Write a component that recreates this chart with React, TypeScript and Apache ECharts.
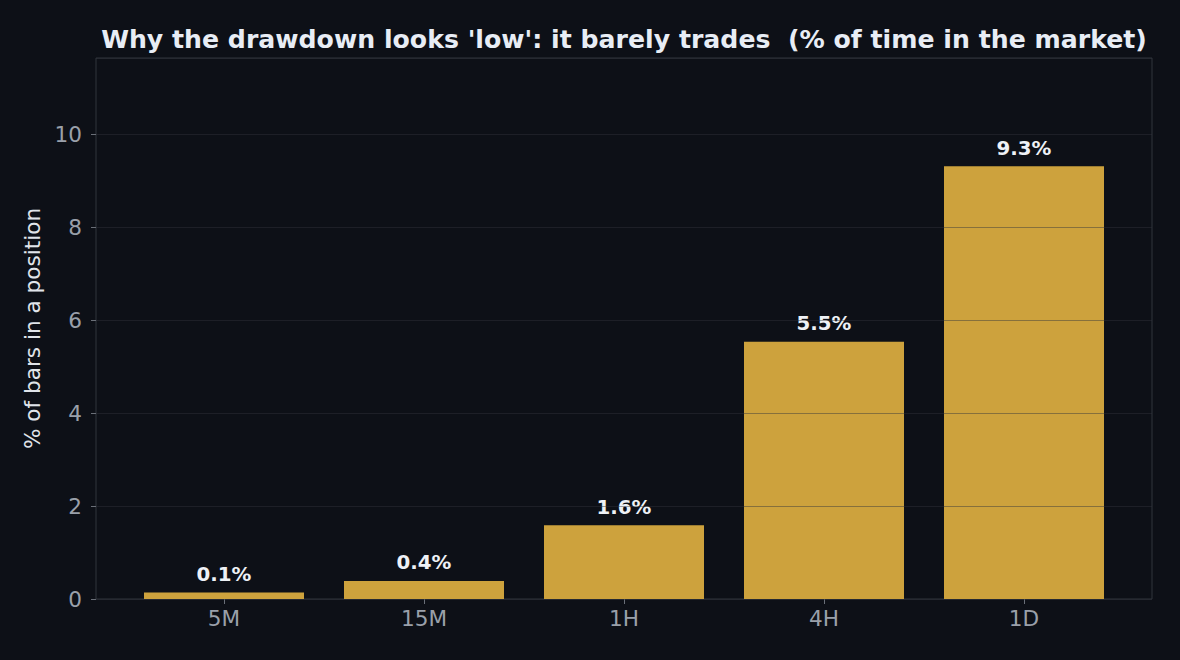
import React, { useEffect, useRef } from "react";
import * as echarts from "echarts";

const categories = ["5M", "15M", "1H", "4H", "1D"];
const values = [0.14, 0.39, 1.59, 5.54, 9.32];
const yTicksMax = 11.65;
const titleText = "Why the drawdown looks 'low': it barely trades  (% of time in the market)";
const yName = "% of bars in a position";

const BG = "#0d1017";
const BAR = "#cda23d";
const FONT = "DejaVu Sans";

export default function App() {
  const ref = useRef<HTMLDivElement>(null);
  useEffect(() => {
    document.body.style.margin = "0";
    document.body.style.background = BG;
    const chart = echarts.init(ref.current!, undefined, { renderer: "svg" });
    chart.setOption({
      animation: false,
      backgroundColor: BG,
      title: {
        text: titleText,
        left: 619,
        top: 22,
        textAlign: "center",
        textStyle: { color: "#e8edf5", fontFamily: FONT, fontWeight: "bold", fontSize: 25.2 },
      },
      grid: [
        { left: 96, right: 28, top: 58, bottom: 61, show: true, borderColor: "#30343c", borderWidth: 1, backgroundColor: "transparent", z: 0 },
        { left: 124, right: 56, top: 58, bottom: 61 },
      ],
      xAxis: [
        { gridIndex: 0, type: "value", min: 0, max: 1, show: false },
        {
          gridIndex: 1,
          type: "category",
          data: categories,
          boundaryGap: true,
          axisLine: { show: false },
          axisTick: { show: true, alignWithLabel: true, length: 5, lineStyle: { color: "#6a6f78" } },
          axisLabel: { color: "#9aa0aa", fontFamily: FONT, fontSize: 21.6, margin: 8 },
          splitLine: { show: false },
        },
      ],
      yAxis: [
        {
          gridIndex: 0,
          type: "value",
          min: 0,
          max: yTicksMax,
          interval: 2,
          z: 5,
          axisLine: { show: false },
          axisTick: { show: true, length: 5, lineStyle: { color: "#6a6f78" } },
          axisLabel: { color: "#9aa0aa", fontFamily: FONT, fontSize: 21.6, margin: 14, showMaxLabel: false },
          splitLine: { show: true, lineStyle: { color: "#30343c", opacity: 0.45, width: 1 } },
          name: yName,
          nameLocation: "middle",
          nameGap: 48,
          nameTextStyle: { color: "#e0e4ea", fontFamily: FONT, fontSize: 21.6 },
        },
        { gridIndex: 1, type: "value", min: 0, max: yTicksMax, show: false, splitLine: { show: false } },
      ],
      series: [
        {
          type: "bar",
          xAxisIndex: 1,
          yAxisIndex: 1,
          data: values,
          barWidth: 160,
          z: 2,
          itemStyle: { color: BAR },
          label: {
            show: true,
            position: "top",
            distance: 8,
            color: "#eef1f6",
            fontFamily: FONT,
            fontWeight: "bold",
            fontSize: 19.8,
            formatter: (p: any) => Number(p.value).toFixed(1) + "%",
          },
        },
      ],
    });
    return () => chart.dispose();
  }, []);
  return <div ref={ref} style={{ width: 1180, height: 660 }} />;
}
